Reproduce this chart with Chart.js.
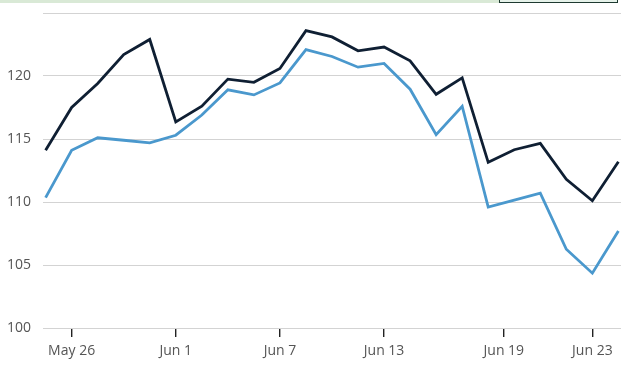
<!DOCTYPE html>
<html>
<head>
<meta charset="utf-8">
<script src="https://cdn.jsdelivr.net/npm/chart.js@4/dist/chart.umd.min.js"></script>
<style>
  html, body { margin: 0; padding: 0; background: #ffffff; }
  #wrap { position: relative; width: 622px; height: 372px; overflow: hidden; }
  #c { position: absolute; left: 0; top: 0; }
  #strip { position: absolute; left: 0; top: 0; width: 499px; height: 3px; background: #d9e9d6; }
  #box { position: absolute; left: 499px; top: -10px; width: 117px; height: 11px; border: 1px solid #1e3a30; background: #e6f2ea; }
</style>
</head>
<body>
<div id="wrap">
  <canvas id="c" width="622" height="372"></canvas>
  <div id="strip"></div>
  <div id="box"></div>
</div>
<script>
// Series values (one point per trading day, index 0..22)
const darkSeries = [114.1, 117.5, 119.4, 121.7, 122.9, 116.35, 117.6, 119.75, 119.5, 120.6,
                    123.6, 123.1, 122.0, 122.3, 121.2, 118.55, 119.85, 113.15, 114.15, 114.65,
                    111.8, 110.1, 113.2];
const blueSeries = [110.35, 114.1, 115.1, 114.9, 114.7, 115.3, 116.9, 118.9, 118.5, 119.45,
                    122.1, 121.55, 120.7, 121.0, 118.95, 115.35, 117.6, 109.6, 110.15, 110.7,
                    106.25, 104.35, 107.7];
// X tick labels and their positions (in point-index units)
const tickLabels = ['May 26', 'Jun 1', 'Jun 7', 'Jun 13', 'Jun 19', 'Jun 23'];
const tickPositions = [1, 5, 9, 13, 17.6, 21];
// Y ticks
const yMin = 100, yMax = 125, yStep = 5;

const toPoints = arr => arr.map((v, i) => ({ x: i, y: v }));

new Chart(document.getElementById('c'), {
  type: 'line',
  data: {
    datasets: [
      { data: toPoints(darkSeries), borderColor: '#0f1f33', borderWidth: 2.8, pointRadius: 0, tension: 0, borderJoinStyle: 'miter' },
      { data: toPoints(blueSeries), borderColor: '#4a98cd', borderWidth: 2.8, pointRadius: 0, tension: 0, borderJoinStyle: 'miter' }
    ]
  },
  options: {
    responsive: false,
    animation: false,
    layout: { padding: { top: 13, right: 1, left: 0, bottom: 0 } },
    plugins: { legend: { display: false }, tooltip: { enabled: false } },
    scales: {
      x: {
        type: 'linear',
        min: -0.1,
        max: 22.1,
        afterBuildTicks: s => { s.ticks = tickPositions.map(v => ({ value: v })); },
        afterFit: s => { s.height = 44; s.paddingLeft = 0; s.paddingRight = 0; },
        border: { display: false },
        grid: { drawOnChartArea: false, drawTicks: true, tickLength: 9, color: '#222222', lineWidth: 1.4 },
        ticks: {
          autoSkip: false, maxRotation: 0, padding: 6,
          color: '#555555',
          font: { family: 'Open Sans', size: 14 },
          callback: (v, i) => tickLabels[i]
        }
      },
      y: {
        min: yMin,
        max: yMax,
        afterFit: s => { s.width = 43; s.paddingTop = 0; s.paddingBottom = 0; },
        border: { display: false },
        grid: { drawTicks: false, color: '#d3d3d3', lineWidth: 1 },
        ticks: {
          stepSize: yStep, padding: 12,
          color: '#555555',
          font: { family: 'Open Sans', size: 14 },
          callback: v => (v === yMax ? '' : String(v))
        }
      }
    }
  }
});
</script>
</body>
</html>
